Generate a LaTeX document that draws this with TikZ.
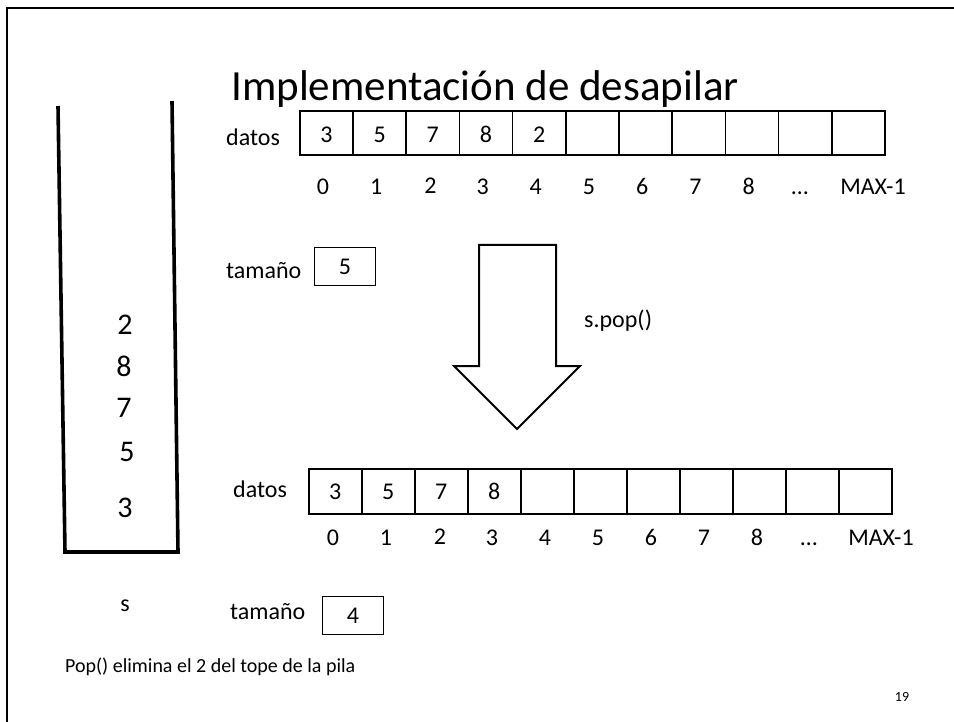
\documentclass[tikz,border=0pt]{standalone}
\usepackage{fontspec}
\setmainfont[Numbers=Lining]{Carlito}
\begin{document}
\begin{tikzpicture}[x=1pt,y=-1pt,
  lbl/.style={font=\fontsize{24}{28}\selectfont, inner sep=0pt},
  cell/.style={draw, line width=1.6pt, minimum width=53.2pt, minimum height=44pt,
    anchor=north west, inner sep=0pt, font=\fontsize{24}{28}\selectfont,
    text height=19pt, text depth=0pt},
  sizebox/.style={draw, line width=0.8pt, minimum width=61pt, minimum height=38pt,
    anchor=north west, inner sep=0pt, font=\fontsize{24}{28}\selectfont},
  stacknum/.style={font=\fontsize{30}{34}\selectfont, inner sep=0pt},
  wall/.style={line width=3.6pt}
]
\useasboundingbox (0,0) rectangle (954,722);
\fill[white] (0,0) rectangle (954,722);
% frame
\draw[line width=2.4pt] (7,722) -- (7,8) -- (954,8);

% title
\node[font=\fontsize{43}{48}\selectfont, anchor=base, inner sep=0pt] (title) at (485,101) {Implementación de desapilar};

% stack
\coordinate (lt) at (58,106);
\coordinate (lb) at (65,552);
\coordinate (rt) at (172,101);
\coordinate (rb) at (178,552);
\draw[wall] (lt) -- (lb);
\draw[wall] (rt) -- (rb);
\draw[wall, line cap=rect] (lb) -- (rb);
\node[stacknum] (s2) at (125,325) {2};
\node[stacknum] (s8) at (124,366) {8};
\node[stacknum] (s7) at (124,408) {7};
\node[stacknum] (s5) at (127,452) {5};
\node[stacknum] (s3) at (125,508) {3};
\node[font=\fontsize{24}{28}\selectfont, inner sep=0pt] (sname) at (125,606) {s};

% top array
\node[lbl, anchor=base west] (datos1) at (226,146) {datos};
\foreach \i/\v in {0/3,1/5,2/7,3/8,4/2,5/{},6/{},7/{},8/{},9/{},10/{}}
  \node[cell] (t\i) at ({299+53.2*\i},110) {\v};
\foreach \i in {0,1,3,4,5,6,7,8}
  \node[lbl, anchor=base] (ti\i) at ({299+53.2*\i+24},195) {\i};
\node[lbl, anchor=base] (ti2) at ({299+53.2*2+25},194) {2};
\node[lbl, anchor=base] (ti9) at ({299+53.2*9+22},195) {…};
\node[lbl, anchor=base] (ti10) at (873,195) {MAX-1};

% tamano top
\node[lbl, anchor=base west] (tam1) at (226,279) {tamaño};
\node[sizebox] (sz1) at (314,247) {5};

% arrow
\draw[line width=2pt, line join=miter]
  (479,245) -- (556,245) -- (556,366) -- (580,366) -- (517,429)
  -- (454,366) -- (479,366) -- cycle;
\node[lbl, anchor=base west] (spop) at (584,327) {s.pop()};

% bottom array
\node[lbl, anchor=base west] (datos2) at (233,497) {datos};
\foreach \i/\v in {0/3,1/5,2/7,3/8,4/{},5/{},6/{},7/{},8/{},9/{},10/{}}
  \node[cell, minimum width=53pt, minimum height=45pt, text height=17pt] (b\i) at ({308+53*\i},468) {\v};
\foreach \i in {0,1,3,4,5,6,7,8}
  \node[lbl, anchor=base] (bi\i) at ({308+53*\i+25},545) {\i};
\node[lbl, anchor=base] (bi2) at ({308+53*2+26},544) {2};
\node[lbl, anchor=base] (bi9) at ({308+53*9+24},545) {…};
\node[lbl, anchor=base] (bi10) at (881,545) {MAX-1};

% tamano bottom
\node[lbl, anchor=base west] (tam2) at (230,619) {tamaño};
\node[sizebox] (sz2) at (322,596) {4};

% caption
\node[font=\fontsize{20}{24}\selectfont, anchor=base west, inner sep=0pt] (cap) at (65,672) {Pop() elimina el 2 del tope de la pila};
\node[font=\fontsize{14}{16}\selectfont, inner sep=0pt] (pnum) at (902,697) {19};
\end{tikzpicture}
\end{document}
